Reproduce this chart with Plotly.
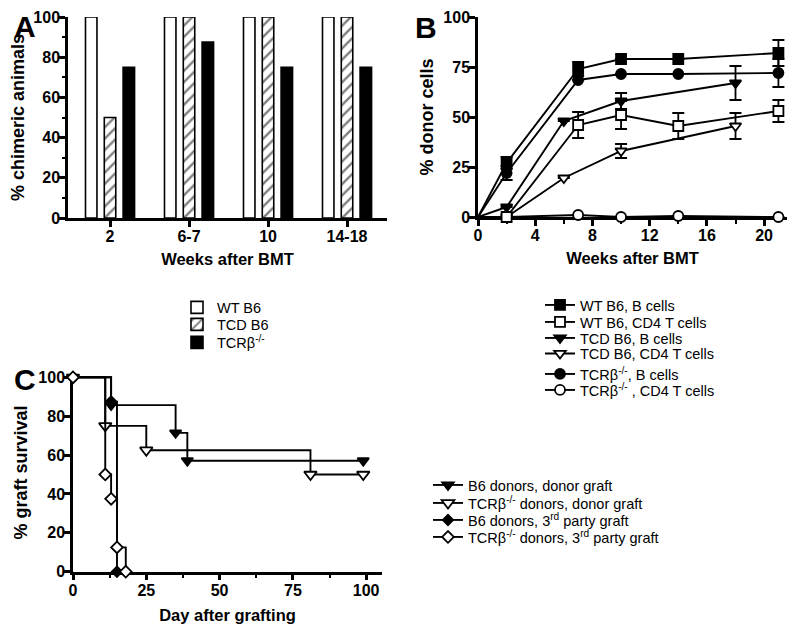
import plotly.graph_objects as go

FONT = "Liberation Sans, Arial, Helvetica, sans-serif"
# The page body adds an 8px margin, so the figure is drawn 8px in from the corner.
OFF = 8
W, H = 798 - OFF, 632 - OFF

# ---------------- Panel A data ----------------
a_categories = ["2", "6-7", "10", "14-18"]
a_wt_b6 = [100, 100, 100, 100]
a_tcd_b6 = [50, 100, 100, 100]
a_tcrb = [75, 87.5, 75, 75]

# ---------------- Panel B data ----------------
b_weeks_wt = [0, 2, 7, 10, 14, 21]
b_wt_bcells = [0, 27, 74, 79, 79, 82]
b_wt_bcells_err = [0, 3, 3.5, 0, 0, 6.5]
b_wt_cd4 = [0, 0, 46, 51, 45.5, 53]
b_wt_cd4_err = [0, 0, 6.5, 7, 6.5, 5.5]

b_weeks_tcd = [0, 2, 6, 10, 18]
b_tcd_bcells = [0, 5, 48, 58, 67]
b_tcd_bcells_err = [0, 0, 0, 4, 8.5]
b_tcd_cd4 = [0, 0, 19.5, 33, 45.5]
b_tcd_cd4_err = [0, 0, 0, 3.5, 6.5]

b_weeks_tcr = [0, 2, 7, 10, 14, 21]
b_tcr_bcells = [0, 22, 68.5, 71.5, 71.5, 72]
b_tcr_bcells_err = [0, 3.5, 0, 0, 0, 7]
b_tcr_cd4 = [0, 0, 1, 0, 0.5, 0]
b_tcr_cd4_err = [0, 0, 0, 0, 0, 0]

# ---------------- Panel C data ----------------
c_b6_donor_days = [0, 13, 35, 39, 99]
c_b6_donor_surv = [100, 85.7, 71.4, 57.1, 57.1]
c_tcr_donor_days = [0, 11, 25, 81, 99]
c_tcr_donor_surv = [100, 75, 62.5, 50, 50]
c_b6_third_days = [0, 13, 15]
c_b6_third_surv = [100, 87.5, 0]
c_tcr_third_days = [0, 11, 13, 15, 18]
c_tcr_third_surv = [100, 50, 37.5, 12.5, 0]


def fx(px):
    return (px - OFF) / W


def fy(py):
    return 1 - (py - OFF) / H


def xd(left, right):
    return [fx(left), fx(right)]


def yd(top, bottom):
    return [fy(bottom), fy(top)]


fig = go.Figure()
legends = {}


def add_legend(key, left_px, center_px, size):
    legends[key] = dict(x=fx(left_px), y=fy(center_px), xanchor="left", yanchor="middle",
                        bgcolor="rgba(0,0,0,0)", borderwidth=0,
                        font=dict(family=FONT, size=size, color="black"))


# ---------- Panel A bars ----------
bar_line = dict(color="black", width=1.6)
fig.add_trace(go.Bar(x=a_categories, y=a_wt_b6, name="WT B6",
                     marker=dict(color="white", line=bar_line),
                     xaxis="x", yaxis="y", legend="legend"))
fig.add_trace(go.Bar(x=a_categories, y=a_tcd_b6, name="TCD B6",
                     marker=dict(color="white", line=bar_line,
                                 pattern=dict(shape="/", fgcolor="black", bgcolor="white",
                                              size=8, solidity=0.3)),
                     xaxis="x", yaxis="y", legend="legend2"))
fig.add_trace(go.Bar(x=a_categories, y=a_tcrb, name="TCRβ<sup>-/-</sup>",
                     marker=dict(color="black", line=bar_line),
                     xaxis="x", yaxis="y", legend="legend3"))
add_legend("legend", 177, 307.5, 14.5)
add_legend("legend2", 177, 324.5, 14.5)
add_legend("legend3", 177, 342.5, 14.5)

# ---------- Panel B lines ----------
# (name, x, y, err, symbol, fill, legend row centre) in drawing order
b_series = [
    ("TCRβ<sup>-/-</sup> , CD4 T cells", b_weeks_tcr, b_tcr_cd4, b_tcr_cd4_err, "circle", "white", 390),
    ("TCD B6, CD4 T cells", b_weeks_tcd, b_tcd_cd4, b_tcd_cd4_err, "triangle-down", "white", 353.5),
    ("TCD B6, B cells", b_weeks_tcd, b_tcd_bcells, b_tcd_bcells_err, "triangle-down", "black", 338),
    ("TCRβ<sup>-/-</sup>, B cells", b_weeks_tcr, b_tcr_bcells, b_tcr_bcells_err, "circle", "black", 374),
    ("WT B6, B cells", b_weeks_wt, b_wt_bcells, b_wt_bcells_err, "square", "black", 305),
    ("WT B6, CD4 T cells", b_weeks_wt, b_wt_cd4, b_wt_cd4_err, "square", "white", 322),
]
for i, (name, xs, ys, errs, sym, fill, row) in enumerate(b_series):
    key = f"legend{4 + i}"
    add_legend(key, 540, row, 14.5)
    # segment from origin (no symbol drawn at the origin)
    fig.add_trace(go.Scatter(x=xs[:2], y=ys[:2], mode="lines",
                             line=dict(color="black", width=1.9),
                             showlegend=False, hoverinfo="skip",
                             xaxis="x2", yaxis="y2"))
    fig.add_trace(go.Scatter(x=xs[1:], y=ys[1:], name=name, mode="lines+markers",
                             line=dict(color="black", width=1.9),
                             marker=dict(symbol=sym, size=10, color=fill,
                                         line=dict(color="black", width=1.8)),
                             error_y=dict(type="data", array=errs[1:], color="black",
                                          thickness=1.8, width=6),
                             cliponaxis=False,
                             xaxis="x2", yaxis="y2", legend=key))

# ---------- Panel C survival ----------
c_series = [
    ("B6 donors, donor graft", c_b6_donor_days, c_b6_donor_surv, "triangle-down", "black", 10, 485),
    ("TCRβ<sup>-/-</sup> donors, donor graft", c_tcr_donor_days, c_tcr_donor_surv, "triangle-down", "white", 11, 503),
    ("B6 donors, 3<sup>rd</sup> party graft", c_b6_third_days, c_b6_third_surv, "diamond", "black", 8, 520),
    ("TCRβ<sup>-/-</sup> donors, 3<sup>rd</sup> party graft", c_tcr_third_days, c_tcr_third_surv, "diamond", "white", 9, 537),
]
for i, (name, xs, ys, sym, fill, size, row) in enumerate(c_series):
    key = f"legend{10 + i}"
    add_legend(key, 428, row, 14.5)
    fig.add_trace(go.Scatter(x=xs, y=ys, name=name, mode="lines+markers",
                             line=dict(color="black", width=1.9, shape="hv"),
                             marker=dict(symbol=sym, size=size, color=fill,
                                         line=dict(color="black", width=1.8)),
                             cliponaxis=False,
                             xaxis="x3", yaxis="y3", legend=key))

tickfont = dict(family=FONT, size=16, color="black", weight="bold")
xtitlefont = dict(family=FONT, size=16.5, color="black", weight="bold")
ytitlefont = dict(family=FONT, size=18, color="black", weight="bold")
axis_common = dict(showline=True, linewidth=2.5, linecolor="black", ticks="outside",
                   ticklen=6, tickwidth=2.5, tickcolor="black", showgrid=False,
                   zeroline=False, tickfont=tickfont, fixedrange=True)
xaxis_common = dict(axis_common, ticklabelstandoff=-4)
yaxis_common = dict(axis_common, ticklabelstandoff=-4)

fig.update_layout(
    width=W, height=H,
    margin=dict(l=0, r=0, t=0, b=0, autoexpand=False),
    paper_bgcolor="white", plot_bgcolor="white",
    font=dict(family=FONT, color="black"),
    barmode="group", bargap=0.286, bargroupgap=0.39,
    showlegend=True,
    xaxis=dict(domain=xd(68, 387), anchor="y", type="category", range=[-0.532, 3.506],
               title=dict(text="Weeks after BMT", font=xtitlefont, standoff=10),
               **xaxis_common),
    yaxis=dict(domain=yd(17, 218), anchor="x", range=[0, 100], tickvals=[0, 20, 40, 60, 80, 100],
               minor=dict(ticks="outside", ticklen=3, tickwidth=2, tickcolor="black", dtick=10),
               title=dict(text="% chimeric animals", font=ytitlefont, standoff=7),
               **yaxis_common),
    xaxis2=dict(domain=xd(478, 787), anchor="y2", range=[0, 21.6], tickvals=[0, 4, 8, 12, 16, 20],
                minor=dict(ticks="outside", ticklen=4, tickwidth=2, tickcolor="black",
                           tickvals=[2, 6, 10, 14, 18]),
                layer="below traces",
                title=dict(text="Weeks after BMT", font=xtitlefont, standoff=10),
                **xaxis_common),
    yaxis2=dict(domain=yd(17, 217), anchor="x2", range=[0, 100], tickvals=[0, 25, 50, 75, 100],
                layer="below traces",
                title=dict(text="% donor cells", font=ytitlefont, standoff=6),
                **yaxis_common),
    xaxis3=dict(domain=xd(73, 382), anchor="y3", range=[0, 105.4], tickvals=[0, 25, 50, 75, 100],
                minor=dict(ticks="outside", ticklen=4, tickwidth=2, tickcolor="black",
                           tickvals=[12.5, 37.5, 62.5, 87.5]),
                layer="below traces",
                title=dict(text="Day after grafting", font=xtitlefont, standoff=12),
                **xaxis_common),
    yaxis3=dict(domain=yd(373.4, 571.7), anchor="x3", range=[0, 102], tickvals=[0, 20, 40, 60, 80, 100],
                layer="below traces",
                title=dict(text="% graft survival", font=ytitlefont, standoff=7),
                **yaxis_common),
    **legends,
)

panel_font = dict(family=FONT, size=30, color="black", weight="bold")
for label, px, py in [("A", 25, 26), ("B", 426, 27), ("C", 25, 379)]:
    fig.add_annotation(text=label, x=fx(px), y=fy(py), xref="paper", yref="paper",
                       xanchor="center", yanchor="middle", showarrow=False, font=panel_font)

fig.write_html("out.html")
